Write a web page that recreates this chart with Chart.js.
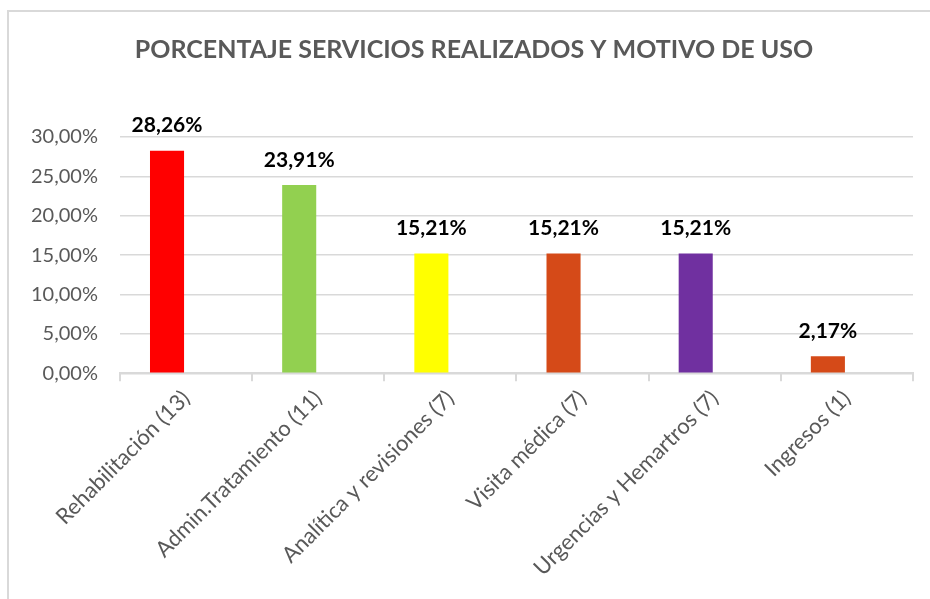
<!DOCTYPE html>
<html>
<head>
<meta charset="utf-8">
<script src="https://cdn.jsdelivr.net/npm/chart.js@4.4.1/dist/chart.umd.min.js"></script>
<style>
  html, body { margin: 0; padding: 0; background: #fff; overflow: hidden; }
  #frame { position: absolute; left: 7px; top: 10px; width: 1000px; height: 1000px; border: 2px solid #d9d9d9; }
  #wrap { position: absolute; left: 0; top: 0; width: 930px; height: 599px; }
</style>
</head>
<body>
<div id="frame"></div>
<div id="wrap"><canvas id="grafico"></canvas></div>
<script>
// datos del grafico
const titulo = 'PORCENTAJE SERVICIOS REALIZADOS Y MOTIVO DE USO';
const categorias = ['Rehabilitación (13)', 'Admin.Tratamiento (11)', 'Analítica y revisiones (7)', 'Visita médica (7)', 'Urgencias y Hemartros (7)', 'Ingresos (1)'];
const porcentajes = [28.26, 23.91, 15.21, 15.21, 15.21, 2.17];
const serieVacia = [null, null, null, null, null, null]; // segunda serie sin datos en el original
const colores = ['#ff0000', '#92d050', '#ffff00', '#d54a18', '#7030a0', '#d54a18'];
const ticksY = [0, 5, 10, 15, 20, 25, 30];

const fmt = v => v.toFixed(2).replace('.', ',') + '%';

// titulo y etiquetas encima de las barras
const etiquetas = {
    id: 'etiquetas',
    afterDatasetsDraw(chart) {
        const ctx = chart.ctx;
        const meta = chart.getDatasetMeta(0);
        ctx.save();
        ctx.textAlign = 'center';
        ctx.textBaseline = 'middle';
        ctx.font = 'bold 25px Lato';
        ctx.fillStyle = '#595959';
        ctx.fillText(titulo, 474, 50);
        ctx.font = 'bold 21px Lato';
        ctx.fillStyle = '#000';
        meta.data.forEach((bar, i) => {
            ctx.fillText(fmt(porcentajes[i]), bar.x, bar.y - 25);
        });
        ctx.restore();
    }
};

const ctx = document.getElementById('grafico').getContext('2d');
const grafico = new Chart(ctx, {
    type: 'bar',
    data: {
        labels: categorias,
        datasets: [{
            data: porcentajes,
            backgroundColor: colores,
            barPercentage: 0.895,
            categoryPercentage: 0.576
        }, {
            data: serieVacia,
            barPercentage: 0.895,
            categoryPercentage: 0.576
        }]
    },
    options: {
        responsive: true,
        maintainAspectRatio: false,
        animation: false,
        layout: { padding: { left: 9, right: 17, top: 137, bottom: 14 } },
        plugins: {
            legend: { display: false },
            tooltip: { enabled: false },
            title: { display: false }
        },
        scales: {
            y: {
                min: 0,
                max: 30,
                afterBuildTicks: axis => { axis.ticks = ticksY.map(v => ({ value: v })); },
                ticks: {
                    color: '#595959',
                    font: { family: 'Lato', size: 20 },
                    padding: 22,
                    callback: v => fmt(v)
                },
                grid: { color: '#d9d9d9', lineWidth: 1.5, drawTicks: false },
                border: { display: false }
            },
            x: {
                offset: true,
                ticks: {
                    color: '#595959',
                    font: { family: 'Lato', size: 22 },
                    minRotation: 45,
                    maxRotation: 45,
                    autoSkip: false,
                    padding: 4
                },
                grid: { offset: true, drawOnChartArea: false, color: '#d9d9d9', lineWidth: 2, tickLength: 8 },
                border: { color: '#d9d9d9', width: 2 }
            }
        }
    },
    plugins: [etiquetas]
});
</script>
</body>
</html>
